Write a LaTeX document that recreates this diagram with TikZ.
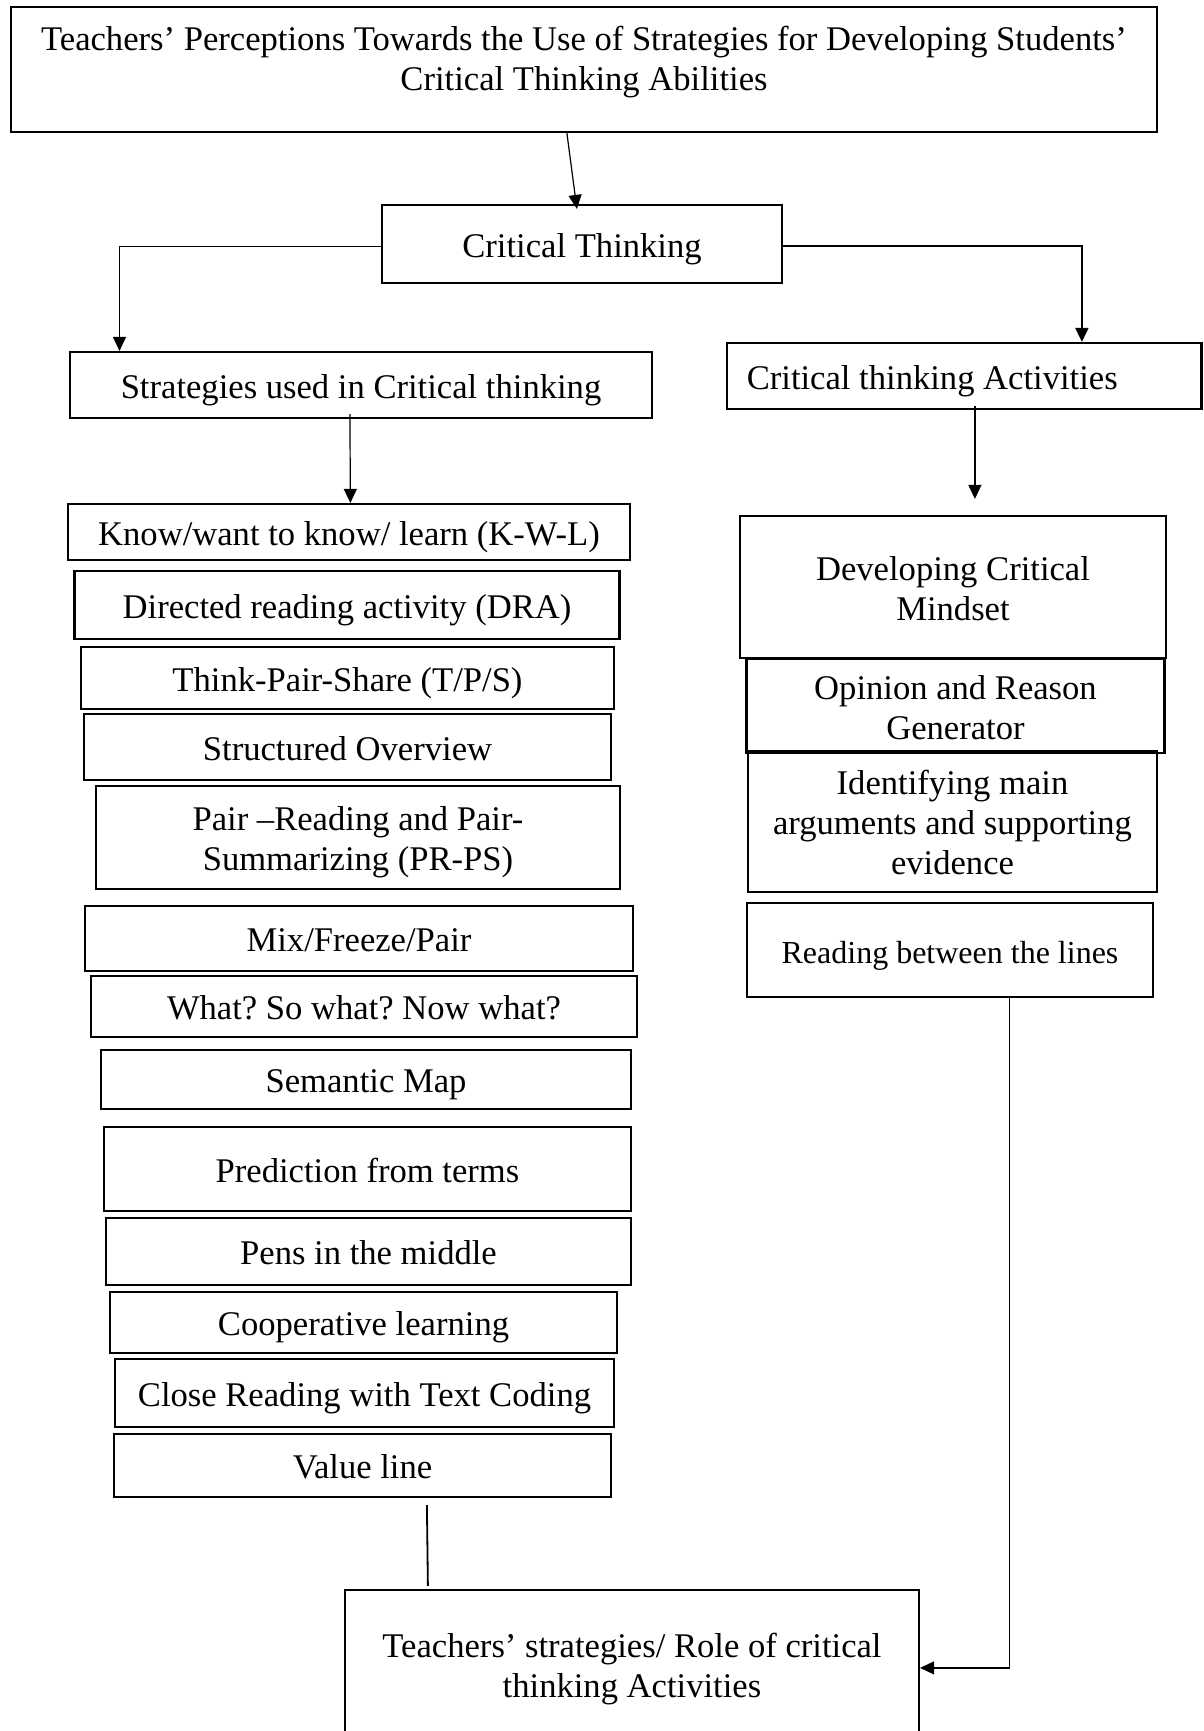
\documentclass[tikz,border=0pt]{standalone}
\usepackage{fontspec}
\setmainfont{Liberation Serif}
\usetikzlibrary{arrows.meta,calc}
\newcommand{\mytop}{\rule{0pt}{17pt}}
\newcommand{\mybot}{\rule[-3.75pt]{0pt}{0pt}}
\frenchspacing
\begin{document}
\begin{tikzpicture}[x=0.5pt,y=-0.5pt,
  box/.style={draw, line width=1.1pt, inner sep=0pt, align=center,
    font=\fontsize{17.3}{20}\selectfont\frenchspacing},
  conn/.style={line width=0.6pt},
  arr/.style={conn, -{Triangle[length=7pt,width=6.5pt]}}]
\useasboundingbox (0,0) rectangle (1204,1731);
\clip (0,0) rectangle (1204,1731);

% top
\node[box, minimum width=573pt, minimum height=62.5pt] (title) at (584,69.5)
  {\mytop Teachers’ Perceptions Towards the Use of Strategies for Developing Students’\\Critical Thinking Abilities\rule[-16.5pt]{0pt}{0pt}};
\node[box, minimum width=200pt, minimum height=39pt] (ct) at (582,244) {\mytop Critical Thinking\mybot};
\node[box, minimum width=291pt, minimum height=33pt] (strat) at (361,385) {\mytop Strategies used in Critical thinking\mybot};
\node[box, minimum width=237.25pt, minimum height=33pt] (act) at (964.25,376) {\mytop Critical thinking Activities\hspace*{32pt}\mybot};

% left column
\node[box, minimum width=281pt, minimum height=28pt] (kwl) at (349,532) {\mytop Know/want to know/ learn (K-W-L)\mybot};
\node[box, minimum width=272.5pt, minimum height=34pt] (dra) at (347,605) {\mytop Directed reading activity (DRA)\mybot};
\node[box, minimum width=266.5pt, minimum height=31pt] (tps) at (347.5,678) {\mytop Think-Pair-Share (T/P/S)\mybot};
\node[box, minimum width=263.5pt, minimum height=33pt] (so) at (347.5,747) {\mytop Structured Overview\mybot};
\node[box, minimum width=262pt, minimum height=51.5pt] (prps) at (358,837.5) {\mytop Pair –Reading and Pair-\\Summarizing (PR-PS)\mybot};
\node[box, minimum width=274pt, minimum height=32.5pt] (mfp) at (359,938.5) {\mytop Mix/Freeze/Pair\mybot};
\node[box, minimum width=273pt, minimum height=30.5pt] (what) at (364,1006.5) {\mytop What? So what? Now what?\mybot};
\node[box, minimum width=265pt, minimum height=29.5pt] (sem) at (366,1079.5) {\mytop Semantic Map\mybot};
\node[box, minimum width=263.5pt, minimum height=42pt] (pred) at (367.5,1169) {\mytop Prediction from terms\mybot};
\node[box, minimum width=262.5pt, minimum height=33.5pt] (pens) at (368.5,1251.5) {\mytop Pens in the middle\mybot};
\node[box, minimum width=253.5pt, minimum height=30.5pt] (coop) at (363.5,1322.5) {\mytop Cooperative learning\mybot};
\node[box, minimum width=249.5pt, minimum height=34pt] (crtc) at (364.5,1393) {\mytop Close Reading with Text Coding\mybot};
\node[box, minimum width=248.5pt, minimum height=31.5pt] (vl) at (362.5,1465.5) {\mytop Value line\mybot};

% right column
\node[box, minimum width=213pt, minimum height=71pt] (dcm) at (953,587) {\mytop Developing Critical\\Mindset\mybot};
\node[box, minimum width=209pt, minimum height=47pt] (orgen) at (955.5,706) {\mytop Opinion and Reason\\Generator\mybot};
\node[box, minimum width=204.5pt, minimum height=70.5pt] (ident) at (952.5,821.5) {\mytop Identifying main\\arguments and supporting\\evidence\mybot};
\node[box, minimum width=203.25pt, minimum height=47pt, font=\fontsize{16}{19}\selectfont] (rbl) at (950,950) {\mytop Reading between the lines\mybot};

% bottom
\node[box, minimum width=287pt, minimum height=74pt] (final) at (632,1664) {\mytop Teachers’ strategies/ Role of critical\\thinking Activities\mybot};

% connectors
\draw[arr] ($(title.south west)+(557,0)$) -- ($(ct.north west)+(196,5)$);
\draw[arr] ($(ct.west)+(0,2.5)$) -| ($(strat.north west)+(50.6,0)$);
\draw[arr, line width=0.9pt] ($(ct.east)+(0,2)$) -| ($(act.north west)+(356,0)$);
\draw[arr] ($(strat.south west)+(281,-5)$) -- ($(kwl.north west)+(283.5,0)$);
\draw[arr] ($(act.south west)+(249,-4)$) -- ($(dcm.north west)+(236,-16)$);
\draw[conn, line width=0.9pt] ($(vl.south west)+(314,7)$) -- ($(final.north west)+(84,-3)$);
\draw[arr] ($(rbl.south west)+(263.5,0)$) |- ($(final.north east)+(0,79)$);
\end{tikzpicture}
\end{document}
